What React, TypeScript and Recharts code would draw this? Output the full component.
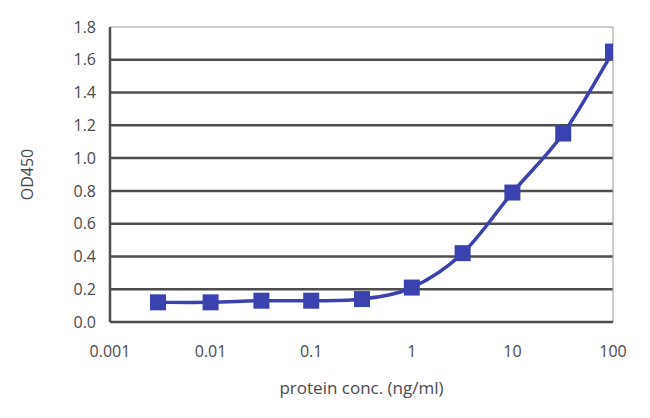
import {
  LineChart,
  Line,
  XAxis,
  YAxis,
  ReferenceLine,
} from "recharts";

const concentrations = [0.003, 0.01, 0.032, 0.1, 0.32, 1, 3.2, 10, 32, 100];
const od450 = [0.12, 0.12, 0.13, 0.13, 0.14, 0.21, 0.42, 0.79, 1.15, 1.65];

const xTicks = [0.001, 0.01, 0.1, 1, 10, 100];
const yTicks = [0, 0.2, 0.4, 0.6, 0.8, 1.0, 1.2, 1.4, 1.6, 1.8];
const gridValues = [0.2, 0.4, 0.6, 0.8, 1.0, 1.2, 1.4, 1.6];

const data = concentrations.map((conc, i) => ({ conc, od: od450[i] }));

const FONT = "'Open Sans', 'Liberation Sans', sans-serif";
const TEXT = "#4a4a4a";
const BLUE = "#3a42b0";

// excel-style smoothed line (catmull-rom through the points)
const smoothCurve = (context: any) => {
  let pts: number[][] = [];
  return {
    areaStart() {},
    areaEnd() {},
    lineStart() {
      pts = [];
    },
    point(x: number, y: number) {
      pts.push([+x, +y]);
    },
    lineEnd() {
      if (!pts.length) return;
      context.moveTo(pts[0][0], pts[0][1]);
      for (let i = 0; i < pts.length - 1; i++) {
        const p0 = pts[Math.max(i - 1, 0)];
        const p1 = pts[i];
        const p2 = pts[i + 1];
        const p3 = pts[Math.min(i + 2, pts.length - 1)];
        context.bezierCurveTo(
          p1[0] + (p2[0] - p0[0]) / 6,
          p1[1] + (p2[1] - p0[1]) / 6,
          p2[0] - (p3[0] - p1[0]) / 6,
          p2[1] - (p3[1] - p1[1]) / 6,
          p2[0],
          p2[1]
        );
      }
    },
  };
};

const Square = (props: any) => {
  const { cx, cy } = props;
  if (cx == null || cy == null) return null;
  return <rect x={cx - 8} y={cy - 8} width={16} height={16} fill={BLUE} />;
};

export default function App() {
  return (
    <LineChart
      width={642}
      height={410}
      data={data}
      margin={{ top: 19, right: 37, bottom: 16, left: 10 }}
      style={{ fontFamily: FONT }}
    >
      {gridValues.map((v) => (
        <ReferenceLine key={v} y={v} stroke="#4d4d4d" strokeWidth={2.5} />
      ))}
      <ReferenceLine y={1.8} stroke="#9a9a9a" strokeWidth={1} />
      <ReferenceLine x={100} stroke="#9a9a9a" strokeWidth={1} />
      <XAxis
        dataKey="conc"
        type="number"
        scale="log"
        domain={[0.001, 100]}
        ticks={xTicks}
        allowDataOverflow
        tickFormatter={(v: number) => String(v)}
        stroke="#4d4d4d"
        strokeWidth={2.5}
        tickLine={false}
        tickSize={0}
        tickMargin={24}
        height={80}
        tick={{ fill: TEXT, fontSize: 16 }}
        label={{
          value: "protein conc. (ng/ml)",
          position: "insideBottom",
          offset: 8,
          fill: TEXT,
          fontSize: 17,
        }}
      />
      <YAxis
        type="number"
        domain={[0, 1.8]}
        ticks={yTicks}
        allowDataOverflow
        tickFormatter={(v: number) => v.toFixed(1)}
        stroke="#4d4d4d"
        strokeWidth={2.5}
        tickLine={false}
        tickSize={0}
        tickMargin={14}
        width={92}
        tick={{ fill: TEXT, fontSize: 16 }}
        label={{
          value: "OD450",
          angle: -90,
          position: "insideLeft",
          offset: 9,
          fill: TEXT,
          fontSize: 16,
          style: { textAnchor: "middle" },
        }}
      />
      <Line
        type={smoothCurve as any}
        dataKey="od"
        stroke={BLUE}
        strokeWidth={3.5}
        dot={<Square />}
        isAnimationActive={false}
      />
    </LineChart>
  );
}
